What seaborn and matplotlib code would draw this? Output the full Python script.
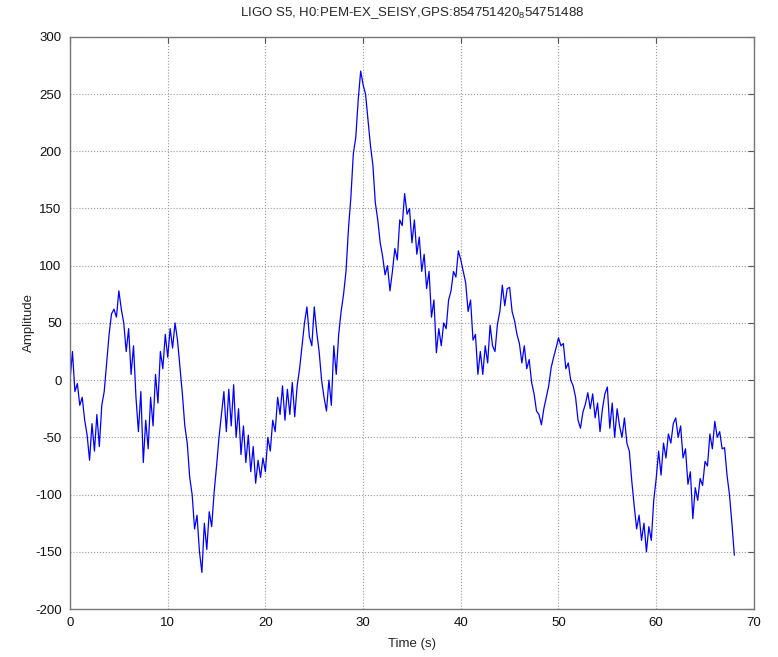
import numpy as np
import pandas as pd
import matplotlib
matplotlib.use("Agg")
import matplotlib.pyplot as plt
import seaborn as sns

# seismic channel amplitude, every 0.25 s (0 .. 68 s)
amplitude = [
    0, 25, -10, -3, -22, -15, -35, -48,
    -70, -38, -62, -30, -58, -22, -10, 15,
    40, 58, 62, 55, 78, 62, 50, 25,
    45, 5, 30, -15, -45, -10, -72, -35,
    -60, -15, -40, 5, -20, 25, 10, 40,
    20, 45, 28, 50, 35, 12, -12, -40,
    -55, -85, -100, -130, -118, -150, -168, -125,
    -148, -115, -128, -98, -75, -50, -30, -10,
    -45, -8, -40, -4, -50, -25, -65, -40,
    -72, -48, -80, -58, -90, -70, -85, -68,
    -80, -50, -62, -35, -45, -15, -30, -5,
    -35, -8, -30, -2, -32, -5, 10, 30,
    50, 64, 38, 30, 64, 42, 25, 0,
    -15, -27, 0, -22, 30, 5, 40, 60,
    75, 95, 132, 160, 198, 212, 245, 270,
    258, 250, 228, 205, 188, 155, 140, 120,
    108, 92, 100, 78, 95, 115, 105, 140,
    135, 163, 145, 150, 120, 140, 110, 125,
    95, 110, 80, 95, 55, 70, 24, 45,
    30, 50, 45, 70, 78, 95, 90, 113,
    105, 95, 85, 60, 70, 35, 40, 5,
    25, 5, 30, 15, 48, 30, 25, 49,
    60, 83, 65, 80, 81, 60, 52, 40,
    32, 15, 30, 10, 18, -2, -12, -27,
    -30, -39, -25, -15, -5, 11, 20, 28,
    37, 30, 32, 10, 15, 0, -5, -15,
    -35, -42, -28, -21, -11, -25, -12, -33,
    -20, -45, -25, -12, -6, -42, -20, -50,
    -25, -40, -50, -33, -55, -62, -88, -110,
    -130, -118, -140, -125, -150, -128, -140, -105,
    -86, -62, -83, -55, -68, -47, -55, -38,
    -33, -50, -40, -68, -60, -91, -80, -121,
    -94, -105, -86, -92, -71, -75, -47, -60,
    -36, -50, -45, -60, -59, -83, -100, -125,
    -153,
]
duration = 68  # GPS 854751420 .. 854751488
time_s = np.linspace(0, duration, len(amplitude))

x_ticks = [0, 10, 20, 30, 40, 50, 60, 70]
y_ticks = [-200, -150, -100, -50, 0, 50, 100, 150, 200, 250, 300]

df = pd.DataFrame({'Time (s)': time_s, 'Amplitude': amplitude})

sns.set_style('white')
plt.rcParams['font.family'] = ['Liberation Sans', 'DejaVu Sans']
plt.rcParams['mathtext.fontset'] = 'custom'
plt.rcParams['mathtext.rm'] = 'Liberation Sans'
plt.rcParams['mathtext.it'] = 'Liberation Sans'
plt.rcParams['axes.unicode_minus'] = False

fig = plt.figure(figsize=(7.78, 6.57), dpi=100)
ax = fig.add_axes([0.090, 0.073, 0.879, 0.871])

sns.lineplot(x='Time (s)', y='Amplitude', data=df, color='#0000ff',
             linewidth=0.9, ax=ax, estimator=None, sort=False)

ax.set_xlim(0, 70)
ax.set_ylim(-200, 300)
ax.set_xticks(x_ticks)
ax.set_yticks(y_ticks)
ax.grid(True, linestyle=':', color='#999999', linewidth=0.8)
ax.tick_params(direction='in', length=4, labelsize=9.5, color='#555555',
               labelcolor='#111111', top=True, right=True, pad=6)
for s in ax.spines.values():
    s.set_color('#777777')
    s.set_linewidth(1.0)

ax.set_xlabel('Time (s)', fontsize=9.5, labelpad=6)
ax.set_ylabel('Amplitude', fontsize=9.5, labelpad=0)
ax.set_title('LIGO S5, H0:PEM-EX_SEISY,GPS:854751420$_{8}$54751488',
             fontsize=9.5, pad=15)

fig.savefig('out.png', dpi=100, facecolor='white')
